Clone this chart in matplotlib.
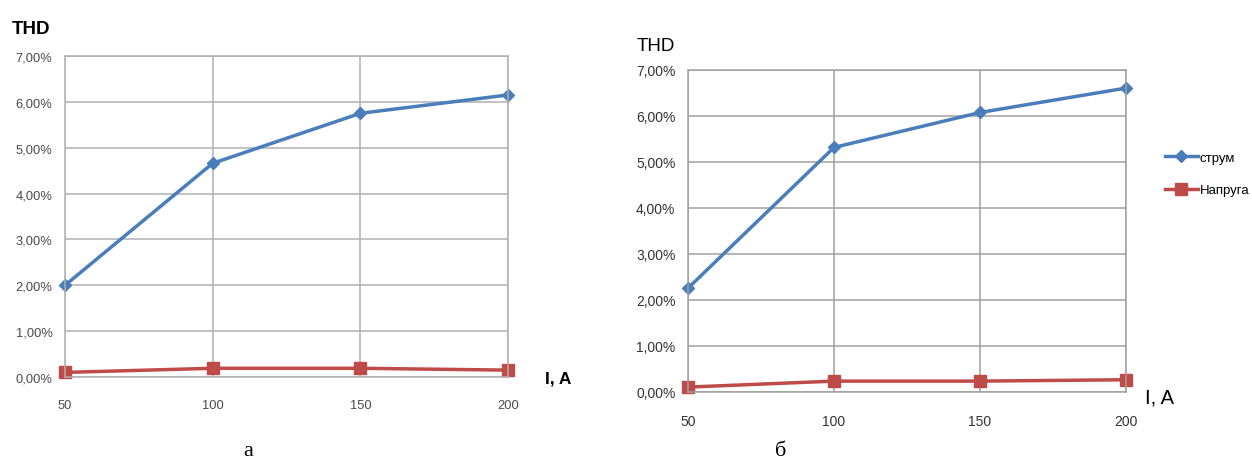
import matplotlib
matplotlib.use("Agg")
import matplotlib.pyplot as plt
from matplotlib.ticker import FuncFormatter

plt.rcParams['font.family'] = ['Liberation Sans', 'DejaVu Sans']

# ---- data ----
current_A = [50, 100, 150, 200]
x_ticks = [50, 100, 150, 200]
y_ticks = [0.0, 0.01, 0.02, 0.03, 0.04, 0.05, 0.06, 0.07]

a_strum = [0.0200, 0.0466, 0.0575, 0.0615]
a_napruga = [0.0010, 0.0019, 0.0019, 0.0015]

b_strum = [0.0225, 0.0531, 0.0607, 0.0660]
b_napruga = [0.0010, 0.0023, 0.0023, 0.0026]

series_names = ["струм", "Напруга"]
panel_labels = ["а", "б"]

W, H = 1252, 464
fig = plt.figure(figsize=(W / 100, H / 100), dpi=100)
fig.patch.set_facecolor("white")

BLUE = "#4A7EBB"
RED = "#BE4B48"


def pct(v, _):
    return ("%.2f%%" % (v * 100)).replace(".", ",")


def px_axes(x0, y0, x1, y1):
    return fig.add_axes([x0 / W, 1 - y1 / H, (x1 - x0) / W, (y1 - y0) / H])


def style(ax, grid_color, tick_color, fs, xpad, ypad):
    ax.set_xlim(50, 200)
    ax.set_ylim(0, 0.07)
    ax.set_xticks(x_ticks)
    ax.set_yticks(y_ticks)
    ax.yaxis.set_major_formatter(FuncFormatter(pct))
    ax.grid(True, color=grid_color, linewidth=1.1)
    ax.set_axisbelow(True)
    for s in ax.spines.values():
        s.set_color(grid_color)
        s.set_linewidth(1.1)
    ax.tick_params(axis="both", length=0, labelsize=fs, colors=tick_color)
    ax.tick_params(axis="x", pad=xpad)
    ax.tick_params(axis="y", pad=ypad)


def fig_text(x, y, s, **kw):
    fig.text(x / W, 1 - y / H, s, **kw)


# ---- panel a ----
ax1 = px_axes(65, 57, 508, 378)
style(ax1, "#B0B0B0", "#4A4A4A", 9.3, 16, 9)
ax1.plot(current_A, a_strum, color=BLUE, lw=2.5, marker="D", ms=6.5,
         label=series_names[0], clip_on=False)
ax1.plot(current_A, a_napruga, color=RED, lw=2.5, marker="s", ms=8,
         label=series_names[1], clip_on=False)
fig_text(12, 30, "THD", fontsize=13.5, fontweight="bold", ha="left", va="center")
fig_text(545, 379, "I, A", fontsize=12.5, fontweight="bold", ha="left", va="center")
fig_text(248, 452, panel_labels[0], fontsize=16, family="Liberation Serif",
         ha="center", va="center")

# ---- panel b ----
ax2 = px_axes(688, 70.7, 1126, 392.7)
style(ax2, "#A0A0A0", "#333333", 10, 16, 9)
l1, = ax2.plot(current_A, b_strum, color=BLUE, lw=2.5, marker="D", ms=6.5,
               label=series_names[0], clip_on=False)
l2, = ax2.plot(current_A, b_napruga, color=RED, lw=2.5, marker="s", ms=8,
               label=series_names[1], clip_on=False)
fig_text(637, 47, "THD", fontsize=13.5, ha="left", va="center")
fig_text(1145, 398, "I, A", fontsize=14.5, ha="left", va="center")
fig_text(781, 452, panel_labels[1], fontsize=16, family="Liberation Serif",
         ha="center", va="center")

fig.legend(handles=[l1, l2], labels=series_names, loc="center left",
           bbox_to_anchor=(1165 / W, 1 - 175 / H), frameon=False,
           fontsize=9.5, handlelength=2.5, handletextpad=0.15, labelspacing=1.5,
           borderaxespad=0, borderpad=0)

fig.savefig("out.png", dpi=100, facecolor="white")
